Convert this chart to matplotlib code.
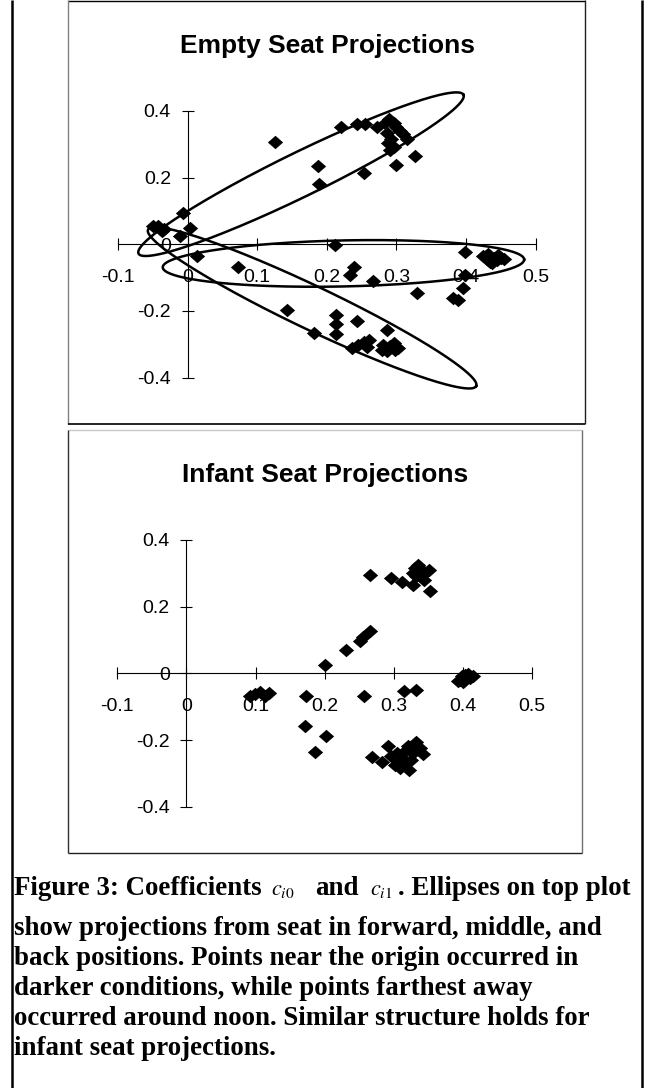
import matplotlib
matplotlib.use('Agg')
import matplotlib.pyplot as plt
import numpy as np
from matplotlib.lines import Line2D

plt.rcParams['font.family'] = ['Liberation Sans', 'DejaVu Sans']
plt.rcParams['mathtext.fontset'] = 'stix'

# ---- data ----
x_ticks = [-0.1, 0, 0.1, 0.2, 0.3, 0.4, 0.5]
x_tick_labels = ['-0.1', '0', '0.1', '0.2', '0.3', '0.4', '0.5']
y_ticks = [-0.4, -0.2, 0, 0.2, 0.4]
y_tick_labels = ['-0.4', '-0.2', '0', '0.2', '0.4']

# empty seat, three seat positions
empty_up_x = [0.126, 0.221, 0.243, 0.255, 0.272, 0.284, 0.290, 0.296, 0.300, 0.305,
              0.310, 0.315, 0.296, 0.291, 0.300, 0.327, 0.187, 0.189, 0.254, -0.006,
              0.003, -0.011, -0.049, -0.042, -0.034, -0.037, 0.286, 0.293, 0.288]
empty_up_y = [0.306, 0.351, 0.359, 0.361, 0.352, 0.364, 0.374, 0.362, 0.352, 0.339,
              0.329, 0.316, 0.292, 0.284, 0.239, 0.266, 0.234, 0.182, 0.214, 0.094,
              0.049, 0.024, 0.054, 0.054, 0.046, 0.039, 0.334, 0.314, 0.304]

empty_mid_x = [0.013, 0.073, 0.212, 0.239, 0.233, 0.267, 0.329, 0.399, 0.399, 0.396,
               0.381, 0.389, 0.424, 0.430, 0.434, 0.440, 0.445, 0.450, 0.438, 0.432,
               0.455, 0.446]
empty_mid_y = [-0.036, -0.069, -0.001, -0.068, -0.091, -0.111, -0.146, -0.024, -0.091, -0.131,
               -0.161, -0.168, -0.035, -0.045, -0.052, -0.040, -0.048, -0.040, -0.055, -0.030,
               -0.044, -0.032]

empty_low_x = [0.143, 0.182, 0.214, 0.213, 0.213, 0.244, 0.286, 0.236, 0.245, 0.253,
               0.260, 0.258, 0.279, 0.286, 0.291, 0.298, 0.303, 0.281, 0.296]
empty_low_y = [-0.198, -0.266, -0.211, -0.239, -0.269, -0.231, -0.258, -0.311, -0.301, -0.294,
               -0.288, -0.308, -0.316, -0.321, -0.306, -0.316, -0.311, -0.301, -0.296]

# ellipses: centre, semi-axis a, conjugate semi-axis b (data units)
ell_center = [(0.163, 0.210), (0.224, -0.0575), (0.179, -0.1906)]
ell_a = [(0.2335, 0.238), (0.2597, 0.0115), (0.2358, -0.2345)]
ell_b = [(0.0139, -0.0592), (0.0, -0.069), (-0.0134, -0.0586)]

# infant seat
infant_x = [0.265, 0.295, 0.311, 0.327, 0.330, 0.335, 0.340, 0.345, 0.337, 0.344,
            0.351, 0.352, 0.328, 0.332,
            0.200, 0.231, 0.251, 0.255, 0.265,
            0.393, 0.398, 0.402, 0.407, 0.414, 0.396, 0.400, 0.410,
            0.092, 0.099, 0.106, 0.113, 0.120,
            0.173, 0.256, 0.315, 0.332, 0.172, 0.202, 0.186,
            0.268, 0.282, 0.291, 0.296, 0.301, 0.308, 0.304, 0.311, 0.316, 0.320,
            0.322, 0.318, 0.327, 0.332, 0.337, 0.342, 0.313, 0.325]
infant_y = [0.296, 0.286, 0.273, 0.266, 0.316, 0.326, 0.311, 0.301, 0.291, 0.281,
            0.311, 0.246, 0.301, 0.291,
            0.026, 0.069, 0.096, 0.109, 0.128,
            -0.024, -0.009, -0.004, -0.001, -0.007, -0.019, -0.027, -0.014,
            -0.069, -0.061, -0.057, -0.067, -0.059,
            -0.069, -0.069, -0.054, -0.049, -0.159, -0.189, -0.237,
            -0.252, -0.267, -0.219, -0.249, -0.274, -0.284, -0.239, -0.254, -0.234, -0.219,
            -0.289, -0.269, -0.239, -0.207, -0.224, -0.241, -0.264, -0.259]

# first caption line is built from pieces: (text, gap after in px, is_math)
caption_first = [('Figure 3: Coefficients', 9, False), ('$c_{i0}$', 20, True),
                 ('and', 12, False), ('$c_{i1}$', 5, True),
                 ('. Ellipses on top plot', 0, False)]
caption_lines = [
    'show projections from seat in forward, middle, and',
    'back positions. Points near the origin occurred in',
    'darker conditions, while points farthest away',
    'occurred around noon. Similar structure holds for',
    'infant seat projections.',
]

# ---- figure in pixel units ----
W, H = 652, 1088
fig = plt.figure(figsize=(W / 100, H / 100), dpi=100)


def fx(px):
    return px / W


def fy(py):
    return 1 - py / H


def seg(x0, y0, x1, y1, color='black', lw=1.0):
    fig.add_artist(Line2D([fx(x0), fx(x1)], [fy(y0), fy(y1)], transform=fig.transFigure,
                          color=color, lw=lw, solid_capstyle='butt'))


diamond = [(-1, 0), (0, 0.88), (1, 0), (0, -0.88), (-1, 0)]


def style_axes(ax):
    ax.set_xlim(-0.1, 0.5)
    ax.set_ylim(-0.4, 0.4)
    ax.patch.set_visible(False)
    ax.spines['top'].set_visible(False)
    ax.spines['right'].set_visible(False)
    ax.spines['left'].set_position(('data', 0))
    ax.spines['bottom'].set_position(('data', 0))
    for s in ['left', 'bottom']:
        ax.spines[s].set_linewidth(0.8)
    ax.set_xticks(x_ticks)
    ax.set_xticklabels(x_tick_labels)
    ax.set_yticks(y_ticks)
    ax.set_yticklabels(y_tick_labels)
    ax.tick_params(direction='inout', length=9, width=0.8, labelsize=14)
    ax.tick_params(axis='x', pad=13)
    ax.tick_params(axis='y', pad=7.5)


# top chart
ax1 = fig.add_axes([fx(118), fy(377.7), (535.5 - 118) / W, (377.7 - 110.8) / H])
style_axes(ax1)
for xs, ys in [(empty_up_x, empty_up_y), (empty_mid_x, empty_mid_y), (empty_low_x, empty_low_y)]:
    ax1.plot(xs, ys, linestyle='none', marker=diamond, ms=11, color='black',
             mec='black', mew=0, zorder=3, clip_on=False)
t = np.linspace(0, 2 * np.pi, 300)
for c, a, b in zip(ell_center, ell_a, ell_b):
    ex = c[0] + a[0] * np.cos(t) + b[0] * np.sin(t)
    ey = c[1] + a[1] * np.cos(t) + b[1] * np.sin(t)
    ax1.plot(ex, ey, color='black', lw=1.8, zorder=4, clip_on=False)

# bottom chart
ax2 = fig.add_axes([fx(117.3), fy(806.7), (532.3 - 117.3) / W, (806.7 - 540) / H])
style_axes(ax2)
ax2.plot(infant_x, infant_y, linestyle='none', marker=diamond, ms=11, color='black',
         mec='black', mew=0, zorder=3, clip_on=False)

# titles
fig.text(fx(327), fy(53.3), 'Empty Seat Projections', ha='center', va='baseline',
         fontsize=19, fontweight='bold')
fig.text(fx(325), fy(481.7), 'Infant Seat Projections', ha='center', va='baseline',
         fontsize=19, fontweight='bold')

# chart boxes and page frame
seg(68, 0.7, 585, 0.7, 'black', 1.0)
seg(68, 0, 68, 424, '#808080', 1.0)
seg(584.5, 0, 584.5, 424, '#202020', 1.0)
seg(68, 424, 585, 424, 'black', 1.2)
seg(68, 430, 582, 430, '#c8c8c8', 1.0)
seg(68.3, 430, 68.3, 853, '#303030', 1.0)
seg(582, 430, 582, 853, '#707070', 1.0)
seg(68, 853, 582, 853, '#202020', 1.0)
seg(12, 0, 12, H, 'black', 1.8)
seg(642, 0, 642, H, 'black', 1.8)

# caption
serif = ['Liberation Serif', 'DejaVu Serif']
renderer = fig.canvas.get_renderer()
xpos = 14.5
for txt, gap, is_math in caption_first:
    tt = fig.text(fx(xpos), fy(895), txt, ha='left', va='baseline',
                  fontsize=16 if is_math else 19.4, fontweight='bold', family=serif)
    xpos += tt.get_window_extent(renderer).width + gap
baselines = [935, 965, 995, 1025, 1055]
for line, yb in zip(caption_lines, baselines):
    fig.text(fx(14.5), fy(yb), line, ha='left', va='baseline', fontsize=19.4,
             fontweight='bold', family=serif)

fig.savefig('out.png', dpi=100)
